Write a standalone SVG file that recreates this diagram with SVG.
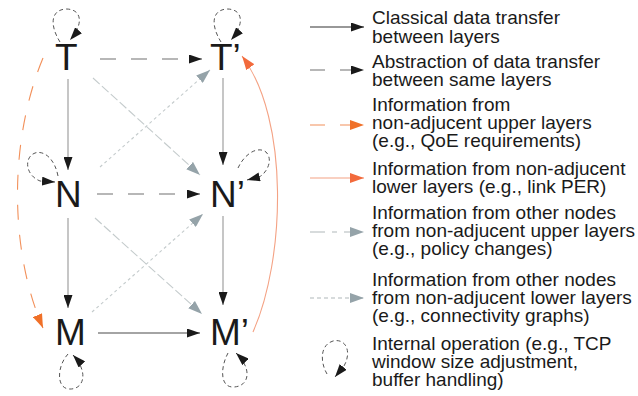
<svg xmlns="http://www.w3.org/2000/svg" width="638" height="396" viewBox="0 0 638 396">
<defs>
<marker id="ab" markerUnits="userSpaceOnUse" markerWidth="14" markerHeight="9" refX="13" refY="4.5" orient="auto"><path d="M0,0 L13,4.5 L0,9 z" fill="#1a1a1a"/></marker>
<marker id="ag" markerUnits="userSpaceOnUse" markerWidth="15" markerHeight="10" refX="14" refY="5" orient="auto"><path d="M0,0 L14,5 L0,10 z" fill="#95a3a9"/></marker>
<marker id="ao" markerUnits="userSpaceOnUse" markerWidth="15" markerHeight="10" refX="14" refY="5" orient="auto"><path d="M0,0 L14,5 L0,10 z" fill="#f07028"/></marker>
<marker id="ar" markerUnits="userSpaceOnUse" markerWidth="15" markerHeight="10" refX="14" refY="5" orient="auto"><path d="M0,0 L14,5 L0,10 z" fill="#f26a3c"/></marker>
</defs>
<style>
.node{font-family:"Liberation Sans",Arial,sans-serif;font-size:37px;fill:#1a1a1a}
.lg{font-family:"Liberation Sans",Arial,sans-serif;font-size:19px;fill:#1a1a1a}
.v{stroke:#a8a8a8;stroke-width:1.3;fill:none;marker-end:url(#ab)}
.h{stroke:#707070;stroke-width:1.2;stroke-dasharray:16 15;fill:none;marker-end:url(#ab)}
.s{stroke:#4a4a4a;stroke-width:1.2;fill:none;marker-end:url(#ab)}
.gd{stroke:#c4cbcc;stroke-width:1.1;stroke-dasharray:9 3;fill:none;marker-end:url(#ag)}
.gt{stroke:#c4cbcc;stroke-width:1.1;stroke-dasharray:3 3;fill:none;marker-end:url(#ag)}
.od{stroke:#f2905a;stroke-width:1.1;stroke-dasharray:15 15;fill:none;marker-end:url(#ao)}
.os{stroke:#f4a284;stroke-width:1.1;fill:none;marker-end:url(#ar)}
.loop{stroke:#555;stroke-width:1;stroke-dasharray:4 3;fill:none;marker-end:url(#ab)}
</style>
<g id="connectors">
<line class="v" x1="68" y1="79" x2="68" y2="170"/>
<line class="v" x1="223" y1="78" x2="223" y2="165"/>
<line class="v" x1="68" y1="218" x2="68" y2="308"/>
<line class="v" x1="223" y1="216" x2="223" y2="305"/>
<line class="h" x1="100" y1="59" x2="202" y2="59"/>
<line class="h" x1="97" y1="194" x2="200" y2="194"/>
<line class="s" x1="98" y1="333" x2="200" y2="333"/>
<line class="gd" x1="93" y1="78" x2="200" y2="175"/>
<line class="gt" x1="100" y1="167" x2="210" y2="70"/>
<line class="gd" x1="95" y1="218" x2="202" y2="314"/>
<line class="gt" x1="92" y1="312" x2="203" y2="214"/>
<path class="od" d="M43,58 C9,140 9,250 43,328"/>
<path class="os" d="M253,332 C285,260 290,120 242,56"/>
<path class="loop" d="M60,42 C50,26 50,10 66,9 C82,9 84,24 70,40"/>
<path class="loop" d="M221,42 C211,26 211,10 227,9 C243,9 245,24 231,40"/>
<path class="loop" d="M58,176 C55,160 45,150 35,153 C24,157 25,175 40,181 L55,182"/>
<path class="loop" d="M238,168 C245,153 258,146 266,152 C274,160 266,174 259,177 L247,180"/>
<path class="loop" d="M68,354 C57,366 56,388 69,389 C84,390 89,372 73,355"/>
<path class="loop" d="M228,353 C220,368 220,388 234,387 C250,386 252,368 236,353"/>
</g>
<g id="T"><text class="node" x="55" y="70">T</text></g>
<g id="T2"><text class="node" x="210" y="70">T’</text></g>
<g id="N"><text class="node" x="55" y="207">N</text></g>
<g id="N2"><text class="node" x="210" y="207">N’</text></g>
<g id="M"><text class="node" x="55" y="345">M</text></g>
<g id="M2"><text class="node" x="210" y="345">M’</text></g>
<g id="legend">
<line class="s" x1="310" y1="27" x2="364" y2="27" style="stroke:#333"/>
<line class="h" x1="310" y1="70" x2="364" y2="70" style="stroke-dasharray:15 15"/>
<line class="od" x1="310" y1="125" x2="364" y2="125"/>
<line class="os" x1="310" y1="178" x2="364" y2="178"/>
<line class="gd" x1="310" y1="232" x2="364" y2="232" style="stroke-dasharray:15 7 5 7;stroke:#b0b8ba"/>
<line class="gt" x1="310" y1="298" x2="364" y2="298" style="stroke-dasharray:4 3;stroke:#b0b8ba"/>
<path class="loop" d="M327,374 C320,362 320,345 333,341 C346,338 352,352 344,366 L335,377"/>
<text class="lg" x="372" y="24">Classical data transfer</text>
<text class="lg" x="372" y="43">between layers</text>
<text class="lg" x="372" y="68">Abstraction of data transfer</text>
<text class="lg" x="372" y="86">between same layers</text>
<text class="lg" x="372" y="111">Information from</text>
<text class="lg" x="372" y="129">non-adjucent upper layers</text>
<text class="lg" x="372" y="147">(e.g., QoE requirements)</text>
<text class="lg" x="372" y="175">Information from non-adjucent</text>
<text class="lg" x="372" y="193">lower layers (e.g., link PER)</text>
<text class="lg" x="372" y="219">Information from other nodes</text>
<text class="lg" x="372" y="237">from non-adjucent upper layers</text>
<text class="lg" x="372" y="255">(e.g., policy changes)</text>
<text class="lg" x="372" y="286">Information from other nodes</text>
<text class="lg" x="372" y="304">from non-adjucent lower layers</text>
<text class="lg" x="372" y="322">(e.g., connectivity graphs)</text>
<text class="lg" x="372" y="350">Internal operation (e.g., TCP</text>
<text class="lg" x="372" y="368">window size adjustment,</text>
<text class="lg" x="372" y="386">buffer handling)</text>
</g>
</svg>
